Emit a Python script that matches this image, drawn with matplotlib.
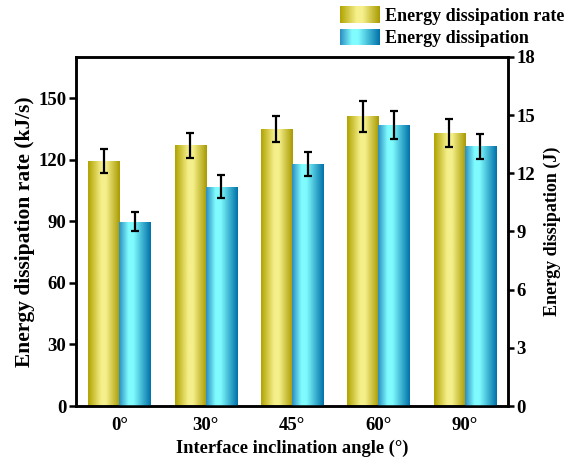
import numpy as np
import matplotlib
matplotlib.use('Agg')
import matplotlib.pyplot as plt
from matplotlib.colors import LinearSegmentedColormap
from matplotlib.patches import Rectangle, Patch
from matplotlib.legend_handler import HandlerBase

# data
angles = ['0°', '30°', '45°', '60°', '90°']
rate = [119.5, 127.0, 135.0, 141.2, 132.9]        # kJ/s
rate_err = [5.8, 6.2, 6.4, 7.5, 6.8]
energy = [9.5, 11.32, 12.5, 14.48, 13.4]           # J
energy_err = [0.48, 0.61, 0.62, 0.72, 0.65]

plt.rcParams['font.family'] = ['Liberation Serif', 'DejaVu Serif']
plt.rcParams['font.weight'] = 'bold'
plt.rcParams['axes.labelweight'] = 'bold'

yellow_cmap = LinearSegmentedColormap.from_list(
    'yel', [(0, '#b0a200'), (0.42, '#f6f08c'), (0.56, '#f6f08c'), (1, '#a89a00')])
blue_cmap = LinearSegmentedColormap.from_list(
    'blu', [(0, '#2a8cc0'), (0.3, '#80fcff'), (0.45, '#80fcff'), (1, '#0070a8')])


class GradHandler(HandlerBase):
    def __init__(self, cmap):
        super().__init__()
        self.cmap = cmap

    def create_artists(self, legend, orig_handle, xdescent, ydescent,
                       width, height, fontsize, trans):
        n = 40
        arts = []
        for i in range(n):
            r = Rectangle((-xdescent + width * i / n, -ydescent), width / n * 1.05, height,
                          facecolor=self.cmap((i + 0.5) / n), edgecolor='none',
                          transform=trans)
            arts.append(r)
        return arts


def gradient_bars(ax, bars, cmap):
    grad = np.linspace(0, 1, 256).reshape(1, -1)
    for p in bars:
        bb = p.get_bbox()
        im = ax.imshow(grad, cmap=cmap, extent=[bb.x0, bb.x1, bb.y0, bb.y1],
                       aspect='auto', interpolation='bicubic', zorder=2)
        im.set_clip_path(p)


fig = plt.figure(figsize=(5.66, 4.61), dpi=100)
ax = fig.add_axes([0.1343, 0.1193, 0.7632, 0.7571])
ax2 = ax.twinx()

x = np.arange(len(angles))
w = 0.36

b1 = ax.bar(x - w / 2, rate, w, facecolor='none', edgecolor='none')
gradient_bars(ax, b1, yellow_cmap)
ax.errorbar(x - w / 2, rate, yerr=rate_err, fmt='none', ecolor='black',
            elinewidth=1.6, capsize=3.2, capthick=1.6, zorder=4)

b2 = ax2.bar(x + w / 2, energy, w, facecolor='none', edgecolor='none')
gradient_bars(ax2, b2, blue_cmap)
ax2.errorbar(x + w / 2, energy, yerr=energy_err, fmt='none', ecolor='black',
             elinewidth=1.6, capsize=3.2, capthick=1.6, zorder=4)

ax.set_xlim(-0.5, 4.5)
ax.set_ylim(0, 170)
ax2.set_ylim(0, 18)
ax.set_yticks(np.arange(0, 151, 30))
ax2.set_yticks(np.arange(0, 19, 3))
ax.set_xticks(x)
ax.set_xticklabels(angles)

for a in (ax, ax2):
    for s in a.spines.values():
        s.set_linewidth(1.8)
ax.tick_params(axis='x', direction='in', length=5, width=1.8, labelsize=13.5, pad=8)
ax.tick_params(axis='y', direction='out', length=5, width=1.8, labelsize=13.5, pad=2)
ax2.tick_params(axis='y', direction='out', length=4, width=1.8, labelsize=13.5, pad=2)

ax.set_xlabel('Interface inclination angle (°)', fontsize=13.3, labelpad=4)
ax.set_ylabel('Energy dissipation rate (kJ/s)', fontsize=15.5, labelpad=2)
ax2.set_ylabel('Energy dissipation (J)', fontsize=13, labelpad=6)

h1 = Patch(label='Energy dissipation rate')
h2 = Patch(label='Energy dissipation')
fig.legend(handles=[h1, h2], loc='upper left', bbox_to_anchor=(340 / 566, 1 - 6 / 461),
           frameon=False, fontsize=13, handlelength=2.2, handleheight=1.05,
           handletextpad=0.3, labelspacing=0.22, borderpad=0, borderaxespad=0,
           handler_map={h1: GradHandler(yellow_cmap), h2: GradHandler(blue_cmap)})

fig.savefig('out.png', dpi=100)
